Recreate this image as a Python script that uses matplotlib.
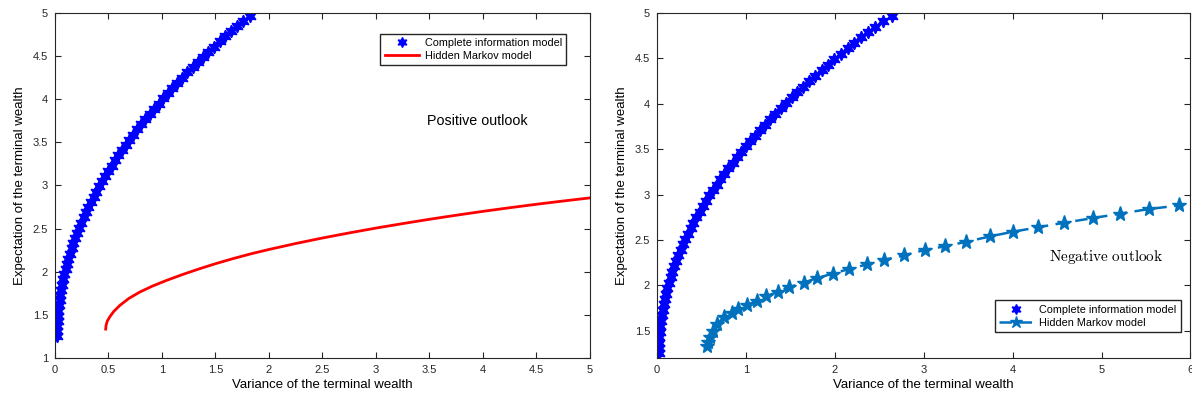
import numpy as np
import matplotlib
matplotlib.use("Agg")
import matplotlib.pyplot as plt
from matplotlib.ticker import FuncFormatter, MultipleLocator

plt.rcParams['font.family'] = ['Liberation Sans', 'DejaVu Sans']
plt.rcParams['mathtext.fontset'] = 'cm'

# expected terminal wealth, shared grid of the complete information frontiers
exp_full = [1.25, 1.31, 1.37, 1.43, 1.49, 1.55, 1.61, 1.67, 1.73, 1.79,
            1.85, 1.91, 1.97, 2.03, 2.09, 2.15, 2.21, 2.27, 2.33, 2.39,
            2.45, 2.51, 2.57, 2.63, 2.69, 2.75, 2.81, 2.87, 2.93, 2.99,
            3.05, 3.11, 3.17, 3.23, 3.29, 3.35, 3.41, 3.47, 3.53, 3.59,
            3.65, 3.71, 3.77, 3.83, 3.89, 3.95, 4.01, 4.07, 4.13, 4.19,
            4.25, 4.31, 4.37, 4.43, 4.49, 4.55, 4.61, 4.67, 4.73, 4.79,
            4.85, 4.91, 4.97]

# positive outlook, complete information: variance
var_full_pos = [0.020, 0.020, 0.022, 0.024, 0.027, 0.032, 0.037, 0.043, 0.050, 0.058,
                0.067, 0.077, 0.087, 0.099, 0.112, 0.125, 0.140, 0.155, 0.172, 0.189,
                0.207, 0.226, 0.247, 0.268, 0.290, 0.312, 0.336, 0.361, 0.387, 0.414,
                0.441, 0.470, 0.499, 0.530, 0.561, 0.593, 0.627, 0.661, 0.696, 0.732,
                0.769, 0.807, 0.846, 0.885, 0.926, 0.968, 1.010, 1.054, 1.098, 1.144,
                1.190, 1.237, 1.286, 1.335, 1.385, 1.435, 1.488, 1.541, 1.594, 1.649,
                1.705, 1.761, 1.819]

# positive outlook, hidden Markov model
var_hmm_pos = [0.474, 0.478, 0.490, 0.514, 0.550, 0.607, 0.690, 0.794, 0.910, 1.044,
               1.200, 1.355, 1.500, 1.667, 1.833, 2.000, 2.250, 2.500, 2.750, 3.000,
               3.250, 3.500, 3.750, 4.000, 4.250, 4.500, 4.750, 5.000]
exp_hmm_pos = [1.335, 1.380, 1.430, 1.480, 1.540, 1.610, 1.690, 1.765, 1.833, 1.900,
               1.971, 2.036, 2.093, 2.153, 2.208, 2.258, 2.327, 2.391, 2.450, 2.506,
               2.558, 2.608, 2.655, 2.700, 2.742, 2.782, 2.820, 2.856]

# negative outlook, complete information: variance
var_full_neg = [0.020, 0.021, 0.023, 0.026, 0.031, 0.037, 0.044, 0.053, 0.063, 0.075,
                0.088, 0.102, 0.117, 0.134, 0.153, 0.172, 0.193, 0.216, 0.239, 0.264,
                0.291, 0.319, 0.348, 0.378, 0.410, 0.443, 0.478, 0.514, 0.551, 0.589,
                0.629, 0.671, 0.713, 0.757, 0.803, 0.849, 0.897, 0.947, 0.998, 1.050,
                1.103, 1.158, 1.214, 1.272, 1.331, 1.391, 1.452, 1.515, 1.580, 1.645,
                1.712, 1.781, 1.851, 1.922, 1.994, 2.068, 2.143, 2.220, 2.298, 2.377,
                2.457, 2.539, 2.640]

# negative outlook, hidden Markov model
var_hmm_neg = [0.565, 0.577, 0.595, 0.626, 0.670, 0.753, 0.840, 0.915, 1.010, 1.120,
               1.230, 1.360, 1.490, 1.650, 1.800, 1.980, 2.160, 2.360, 2.550, 2.780,
               3.010, 3.240, 3.480, 3.750, 4.000, 4.290, 4.580, 4.900, 5.210, 5.530,
               5.870]
exp_hmm_neg = [1.330, 1.380, 1.430, 1.500, 1.570, 1.647, 1.700, 1.740, 1.780, 1.830,
               1.880, 1.930, 1.980, 2.030, 2.080, 2.130, 2.180, 2.230, 2.280, 2.330,
               2.390, 2.430, 2.480, 2.540, 2.590, 2.640, 2.690, 2.740, 2.790, 2.840,
               2.880]

fig = plt.figure(figsize=(11.92, 3.99), dpi=100)
ax1 = fig.add_axes([0.0461, 0.1028, 0.4488, 0.8647])
ax2 = fig.add_axes([0.5512, 0.1028, 0.4475, 0.8647])

fmt = FuncFormatter(lambda v, p: '%g' % v)
hexagram = (6, 1, 0)

# left panel
ax1.plot(var_full_pos, exp_full, linestyle='none', marker=hexagram, markersize=9,
         color='#0000FF', label='Complete information model')
ax1.plot(var_hmm_pos, exp_hmm_pos, color='#FF0000', linewidth=2,
         label='Hidden Markov model')
ax1.set_xlim(0, 5)
ax1.set_ylim(1, 5)
ax1.xaxis.set_major_locator(MultipleLocator(0.5))
ax1.yaxis.set_major_locator(MultipleLocator(0.5))
ax1.text(3.95, 3.75, 'Positive outlook', fontsize=10.3, ha='center', va='center')
ax1.legend(loc='upper right', bbox_to_anchor=(0.966, 0.955), fontsize=7.8,
           fancybox=False, edgecolor='#262626', framealpha=1, borderpad=0.4,
           handlelength=3.2, labelspacing=0.25, handletextpad=0.5, markerscale=0.8)

# right panel
ax2.plot(var_full_neg, exp_full, linestyle='none', marker=hexagram, markersize=9,
         color='#0000FF', label='Complete information model')
ax2.plot(var_hmm_neg, exp_hmm_neg, color='#0072BD', linestyle='--', linewidth=1.8,
         dashes=(5, 3), marker='*', markersize=11, label='Hidden Markov model')
ax2.set_xlim(0, 6)
ax2.set_ylim(1.2, 5)
ax2.xaxis.set_major_locator(MultipleLocator(1))
ax2.yaxis.set_major_locator(MultipleLocator(0.5))
ax2.text(5.05, 2.31, r'$\mathrm{Negative\ outlook}$', fontsize=11,
         ha='center', va='center')
ax2.legend(loc='lower right', bbox_to_anchor=(0.992, 0.06), fontsize=7.8,
           fancybox=False, edgecolor='#262626', framealpha=1, borderpad=0.4,
           handlelength=3.2, labelspacing=0.25, handletextpad=0.5, markerscale=0.8)

for ax in (ax1, ax2):
    ax.xaxis.set_major_formatter(fmt)
    ax.yaxis.set_major_formatter(fmt)
    ax.tick_params(direction='in', top=True, right=True, length=4, width=0.8,
                   labelsize=8, colors='#262626', pad=5)
    for s in ax.spines.values():
        s.set_color('#262626')
        s.set_linewidth(0.8)
    ax.set_xlabel('Variance of the terminal wealth', fontsize=9.5, labelpad=3)
    ax.set_ylabel('Expectation of the terminal wealth', fontsize=9.5, labelpad=5)

fig.savefig('out.png', dpi=100)
